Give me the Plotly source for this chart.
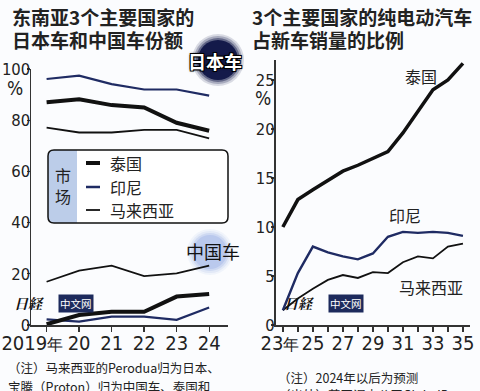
import plotly.graph_objects as go

# ---------------- data ----------------
years_share = [2019, 2020, 2021, 2022, 2023, 2024]
share_ticktext = ["2019<span style='font-size:16px'>年</span>\u00a0\u00a0\u00a0\u00a0\u00a0", "20", "21", "22", "23", "24"]

jp_thailand = [87.0, 88.2, 85.9, 85.0, 79.0, 75.9]
jp_indonesia = [96.1, 97.4, 94.1, 92.0, 92.0, 89.6]
jp_malaysia = [77.1, 75.2, 75.2, 76.2, 76.2, 72.9]

cn_thailand = [0.3, 3.9, 5.2, 5.2, 11.1, 12.1]
cn_indonesia = [2.2, 1.3, 3.3, 3.3, 2.0, 6.8]
cn_malaysia = [16.9, 21.2, 23.2, 19.1, 20.2, 23.2]

share_yticks = [0, 20, 40, 60, 80, 100]

years_ev = list(range(2023, 2036))
ev_ticktext = ["23<span style='font-size:16px'>年</span>\u00a0", "", "25", "", "27", "", "29", "", "31", "", "33", "", "35"]
ev_thailand = [10.0, 12.8, 13.8, 14.7, 15.7, 16.3, 17.0, 17.7, 19.6, 21.8, 24.0, 25.0, 26.7]
ev_indonesia = [1.5, 5.3, 8.0, 7.4, 7.0, 6.7, 7.3, 9.0, 9.5, 9.4, 9.5, 9.4, 9.1]
ev_malaysia = [1.5, 2.7, 3.7, 4.6, 5.1, 4.8, 5.4, 5.3, 6.4, 7.0, 6.8, 8.0, 8.3]
ev_yticks = [0, 5, 10, 15, 20, 25]

# ---------------- style ----------------
W, H = 480, 391
BLACK = "#111111"
NAVY = "#1f2b63"
TXT = "#222222"
CJK = "Noto Sans CJK SC, Noto Sans, sans-serif"
NUM = "Liberation Sans Narrow, DejaVu Sans Condensed, Liberation Sans, sans-serif"


def PX(x):
    return x / W


def PY(y):
    return 1 - y / H


fig = go.Figure()

# left chart traces
for ys, col, w in [(jp_malaysia, BLACK, 1.8), (jp_indonesia, NAVY, 2.2), (jp_thailand, BLACK, 4),
                   (cn_malaysia, BLACK, 1.8), (cn_indonesia, NAVY, 2.2), (cn_thailand, BLACK, 4)]:
    fig.add_trace(go.Scatter(x=years_share, y=ys, mode="lines", xaxis="x", yaxis="y",
                             line=dict(color=col, width=w), showlegend=False, hoverinfo="skip"))

# right chart traces
for ys, col, w in [(ev_malaysia, BLACK, 1.8), (ev_indonesia, NAVY, 2.4), (ev_thailand, BLACK, 3.5)]:
    fig.add_trace(go.Scatter(x=years_ev, y=ys, mode="lines", xaxis="x2", yaxis="y2",
                             line=dict(color=col, width=w), showlegend=False, hoverinfo="skip"))

axis_common = dict(showgrid=False, zeroline=False, showline=True, linecolor="#333333", linewidth=1.5,
                   ticks="outside", tickcolor="#333333", tickwidth=1.3, fixedrange=True, tickangle=0,
                   automargin=False)

xfont = dict(family=NUM, size=20, color=TXT)
yfont = dict(family=NUM, size=16.5, color=TXT)

fig.update_layout(
    template="none",
    width=W, height=H,
    margin=dict(l=0, r=0, t=0, b=0, autoexpand=False),
    paper_bgcolor="#fbfcfe",
    plot_bgcolor="rgba(0,0,0,0)",
    showlegend=False,
    xaxis=dict(domain=[PX(31), PX(228)], range=[2018.52, 2024.58], anchor="y",
               tickvals=years_share, ticktext=share_ticktext, ticklen=5, ticklabelstandoff=-6,
               tickfont=xfont, **axis_common),
    yaxis=dict(domain=[PY(325), PY(69)], range=[0, 100], anchor="x",
               tickvals=share_yticks, ticklen=3, ticklabelstandoff=-7,
               tickfont=yfont, **axis_common),
    xaxis2=dict(domain=[PX(275.5), PX(470)], range=[2022.51, 2035.47], anchor="y2",
                tickvals=years_ev, ticktext=ev_ticktext, ticklen=5, ticklabelstandoff=-6,
                tickfont=xfont, **axis_common),
    yaxis2=dict(domain=[PY(325), PY(60)], range=[0, 27.04], anchor="x2",
                tickvals=ev_yticks, ticklen=3, ticklabelstandoff=-7,
                tickfont=yfont, **axis_common),
)

shapes = []


def blob(cx, cy, r, color, steps):
    for dr, op in steps:
        shapes.append(dict(type="circle", xref="paper", yref="paper", layer="below",
                           x0=PX(cx - r - dr), x1=PX(cx + r + dr), y0=PY(cy + r + dr), y1=PY(cy - r - dr),
                           fillcolor=color, opacity=op, line=dict(width=0)))


blob(218, 60, 20, "#141a4a", [(6, 0.15), (4, 0.25), (2, 0.45), (0, 1.0)])
blob(210, 252, 17, "#b6c6ec", [(6, 0.15), (4, 0.25), (2, 0.45), (0, 0.85)])


def rounded_path(x0, y0, x1, y1, r, right=True):
    def p(x, y):
        return f"{PX(x):.5f},{PY(y):.5f}"
    d = f"M{p(x0, y0 + r)} Q{p(x0, y0)} {p(x0 + r, y0)} "
    if right:
        d += f"L{p(x1 - r, y0)} Q{p(x1, y0)} {p(x1, y0 + r)} L{p(x1, y1 - r)} Q{p(x1, y1)} {p(x1 - r, y1)} "
    else:
        d += f"L{p(x1, y0)} L{p(x1, y1)} "
    d += f"L{p(x0 + r, y1)} Q{p(x0, y1)} {p(x0, y1 - r)} Z"
    return d


# legend box
LX0, LY0, LX1, LY1 = 48, 150, 228, 223
shapes.append(dict(type="path", xref="paper", yref="paper", path=rounded_path(LX0, LY0, LX1, LY1, 6),
                   fillcolor="#ffffff", line=dict(width=0)))
shapes.append(dict(type="path", xref="paper", yref="paper", path=rounded_path(LX0, LY0, 77, LY1, 6, right=False),
                   fillcolor="#bccde9", line=dict(width=0)))
shapes.append(dict(type="path", xref="paper", yref="paper", path=rounded_path(LX0, LY0, LX1, LY1, 6),
                   fillcolor="rgba(0,0,0,0)", line=dict(color="#111111", width=1.5)))

legend_items = [("泰国", BLACK, 4, 163), ("印尼", NAVY, 2.5, 187), ("马来西亚", BLACK, 1.8, 210)]
for name, col, w, yy in legend_items:
    shapes.append(dict(type="line", xref="paper", yref="paper", x0=PX(86), x1=PX(100), y0=PY(yy), y1=PY(yy),
                       line=dict(color=col, width=w)))

fig.update_layout(shapes=shapes)

ann = []


def text(x, y, s, size, color=TXT, xanchor="left", family=CJK, fontkw=None, **kw):
    ann.append(dict(x=PX(x), y=PY(y), xref="paper", yref="paper", text=s, showarrow=False,
                    xanchor=xanchor, yanchor="middle",
                    font=dict(family=family, size=size, color=color, **(fontkw or {})), **kw))


# titles
text(10, 17, "<b>东南亚3个主要国家的</b>", 19)
text(10, 40, "<b>日本车和中国车份额</b>", 19)
text(250, 17, "<b>3个主要国家的纯电动汽车</b>", 19)
text(250, 40, "<b>占新车销量的比例</b>", 19)

# % units
text(15, 88, "%", 19, xanchor="center", family=NUM)
text(263, 98, "%", 19, xanchor="center", family=NUM)

# legend texts
text(63, 175, "市", 16, xanchor="center")
text(63, 196, "场", 16, xanchor="center")
for name, col, w, yy in legend_items:
    text(108, yy, name, 16)

# badges
text(215, 61, "<b>日本车</b>", 18, color="#ffffff", xanchor="center",
     fontkw=dict(shadow="1px 1px 0 #000, -1px -1px 0 #000, 1px -1px 0 #000, -1px 1px 0 #000, 0 0 3px #000"))
text(213, 251, "中国车", 18, color="#111111", xanchor="center")

# right-chart series labels
text(421, 76, "泰国", 16, xanchor="center")
text(405, 215, "印尼", 16, xanchor="center")
text(431, 287, "马来西亚", 16, xanchor="center")

# watermarks
for wx in (12, 282):
    text(wx, 303, "<b><i>日経</i></b>", 14, color="#111111", family="Noto Serif CJK JP, Noto Sans CJK JP, serif")
    ann.append(dict(x=PX(wx + 46), y=PY(303), xref="paper", yref="paper", text="中文网", showarrow=False,
                    xanchor="left", yanchor="middle", bgcolor="#1d2a5c", borderpad=1,
                    font=dict(family=CJK, size=10.5, color="#ffffff")))

# footnotes
text(6, 367, "（注）马来西亚的Perodua归为日本、", 12.5)
text(6, 386, "宝腾（Proton）归为中国车、泰国和", 12.5)
text(276, 377, "（注）2024年以后为预测", 12.5)
text(276, 394, "（出处）英国调查公司GlobalData", 12.5)

fig.update_layout(annotations=ann)

fig.write_html("out.html", config={"displayModeBar": False, "staticPlot": True},
               post_script="document.body.style.margin='0px';document.body.style.overflow='hidden';")
